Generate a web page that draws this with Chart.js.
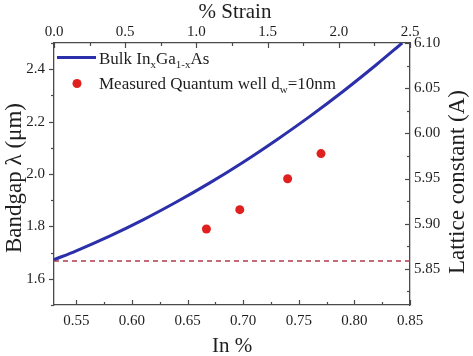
<!DOCTYPE html>
<html>
<head>
<meta charset="utf-8">
<script src="https://cdn.jsdelivr.net/npm/chart.js@4"></script>
<style>
html,body{margin:0;padding:0;background:#fff;}
canvas{display:block;}
</style>
</head>
<body>
<canvas id="c" width="473" height="356"></canvas>
<script>
// ---- data ----
const bulkIn = [0.53, 0.55, 0.58, 0.61, 0.64, 0.67, 0.70, 0.73, 0.76, 0.79, 0.82, 0.843];
const bulkLambda = [1.673, 1.707, 1.763, 1.825, 1.893, 1.966, 2.045, 2.130, 2.220, 2.316, 2.418, 2.500];
const qwIn = [0.667, 0.697, 0.740, 0.770];
const qwLambda = [1.790, 1.864, 1.982, 2.078];
const refIn = [0.53, 0.85];
const refLambda = [1.668, 1.668];
// tick labels
const inTicks = [0.55, 0.60, 0.65, 0.70, 0.75, 0.80, 0.85];
const strainTicks = [0.0, 0.5, 1.0, 1.5, 2.0, 2.5];
const lambdaTicks = [1.6, 1.8, 2.0, 2.2, 2.4];
const latticeTicks = [5.85, 5.90, 5.95, 6.00, 6.05, 6.10];
// legend / titles
const seriesNames = [["Bulk In", ["x"], "Ga", ["1-x"], "As"], ["Measured Quantum well d", ["w"], "=10nm"]];
const titleBottom = "In %";
const titleTop = "% Strain";
const titleLeft = "Bandgap \u03bb (\u03bcm)";
const titleRight = "Lattice constant (A)";

const BLUE = "#2b2faa";
const RED = "#e0201e";
const DASH = "rgb(178,58,78)";
const AX = "#4a4a4a";
const TXT = "#1e1e1e";
const SERIF = "Liberation Serif";

Chart.defaults.font.family = SERIF;

function pts(xs, ys){ return xs.map((x,i)=>({x:x, y:ys[i]})); }

function minorsOf(arr, lo, hi){
  const step = arr[1]-arr[0];
  const out = [];
  for (let k=-1;k<arr.length;k++){
    const v = (k<0? arr[0]-step/2 : arr[k]+step/2);
    if (v >= lo-1e-9 && v <= hi+1e-9) out.push(v);
  }
  return out;
}

const tickPlugin = {
  id:'tickMarks',
  afterDraw(chart){
    const ctx = chart.ctx;
    const s = chart.scales;
    const a = chart.chartArea;
    ctx.save();
    ctx.strokeStyle = AX;
    ctx.lineWidth = 1.2;
    function vt(scale, vals, y0, dir, len){
      vals.forEach(v=>{
        const p = Math.round(scale.getPixelForValue(v))+0.5;
        ctx.beginPath(); ctx.moveTo(p, y0); ctx.lineTo(p, y0+dir*len); ctx.stroke();
      });
    }
    function ht(scale, vals, x0, dir, len){
      vals.forEach(v=>{
        const p = Math.round(scale.getPixelForValue(v))+0.5;
        ctx.beginPath(); ctx.moveTo(x0, p); ctx.lineTo(x0+dir*len, p); ctx.stroke();
      });
    }
    vt(s.x, inTicks, a.bottom, -1, 5);
    vt(s.x, minorsOf(inTicks, s.x.min, s.x.max), a.bottom, -1, 3);
    vt(s.x2, strainTicks, a.top, 1, 5);
    vt(s.x2, minorsOf(strainTicks, s.x2.min, s.x2.max), a.top, 1, 3);
    ht(s.y, lambdaTicks, a.left, -1, 5);
    ht(s.y, minorsOf(lambdaTicks, s.y.min, s.y.max), a.left, -1, 3);
    ht(s.y2, latticeTicks, a.right, -1, 5);
    ht(s.y2, minorsOf(latticeTicks, s.y2.min, s.y2.max), a.right, -1, 3);

    // titles
    ctx.fillStyle = TXT;
    ctx.textBaseline = 'alphabetic';
    ctx.textAlign = 'center';
    ctx.font = "21px '" + SERIF + "'";
    ctx.fillText(titleBottom, (a.left+a.right)/2, 352);
    ctx.fillText(titleTop, (a.left+a.right)/2 + 3, 18);
    ctx.font = "23px '" + SERIF + "'";
    ctx.save(); ctx.translate(21, 178); ctx.rotate(-Math.PI/2); ctx.fillText(titleLeft, 0, 0); ctx.restore();
    ctx.save(); ctx.translate(464, 182); ctx.rotate(-Math.PI/2); ctx.fillText(titleRight, 0, 0); ctx.restore();

    // legend
    function rich(parts, x, y){
      ctx.textAlign = 'left';
      parts.forEach(p=>{
        if (Array.isArray(p)){
          ctx.font = "11px '" + SERIF + "'";
          ctx.fillText(p[0], x, y+4);
          x += ctx.measureText(p[0]).width;
        } else {
          ctx.font = "17px '" + SERIF + "'";
          ctx.fillText(p, x, y);
          x += ctx.measureText(p).width;
        }
      });
    }
    const ds0 = chart.data.datasets[0], ds1 = chart.data.datasets[1];
    ctx.strokeStyle = ds0.borderColor; ctx.lineWidth = 3;
    ctx.beginPath(); ctx.moveTo(57, 57.5); ctx.lineTo(96, 57.5); ctx.stroke();
    rich(seriesNames[0], 99, 63.5);
    ctx.fillStyle = ds1.backgroundColor;
    ctx.beginPath(); ctx.arc(77, 83.5, 4.5, 0, Math.PI*2); ctx.fill();
    ctx.fillStyle = TXT;
    rich(seriesNames[1], 99, 89);
    ctx.restore();
  }
};

function fixedSize(prop, val){ return function(scale){ scale[prop] = val; }; }
function setTicks(arr){ return function(scale){ scale.ticks = arr.map(v=>({value:v})); }; }

function tf(){ return {family: SERIF, size: 15}; }
const commonGrid = {display:false, drawTicks:false, drawOnChartArea:false};
const commonBorder = {display:true, color:AX, width:1.3};

new Chart(document.getElementById('c'), {
  type:'line',
  data:{
    datasets:[
      {label:'Bulk', data:pts(bulkIn, bulkLambda), borderColor:BLUE, backgroundColor:BLUE, borderWidth:3,
       pointRadius:0, cubicInterpolationMode:'monotone', xAxisID:'x', yAxisID:'y', order:1},
      {label:'QW', type:'scatter', data:pts(qwIn, qwLambda), borderColor:RED, backgroundColor:RED,
       pointRadius:4.5, borderWidth:0, showLine:false, xAxisID:'x', yAxisID:'y', order:0},
      {label:'ref', data:pts(refIn, refLambda), borderColor:DASH, borderWidth:1.3, borderDash:[5,4],
       pointRadius:0, xAxisID:'x', yAxisID:'y', order:2}
    ]
  },
  options:{
    responsive:false, animation:false, devicePixelRatio:1,
    layout:{padding:0},
    font:{family:SERIF},
    plugins:{legend:{display:false}, tooltip:{enabled:false}},
    scales:{
      x:{type:'linear', position:'bottom', min:0.53, max:0.85,
         grid:commonGrid, border:commonBorder,
         ticks:{font:tf(), color:TXT, padding:7, autoSkip:false, maxRotation:0, callback:v=>Number(v).toFixed(2)},
         afterBuildTicks:setTicks(inTicks), afterFit:fixedSize('height',51)},
      x2:{type:'linear', position:'top', min:0, max:2.5,
         grid:commonGrid, border:commonBorder,
         ticks:{font:tf(), color:TXT, padding:2, autoSkip:false, maxRotation:0, callback:v=>Number(v).toFixed(1)},
         afterBuildTicks:setTicks(strainTicks), afterFit:fixedSize('height',43)},
      y:{type:'linear', position:'left', min:1.5, max:2.5,
         grid:commonGrid, border:commonBorder,
         ticks:{font:tf(), color:TXT, padding:9, autoSkip:false, callback:v=>Number(v).toFixed(1)},
         afterBuildTicks:setTicks(lambdaTicks), afterFit:fixedSize('width',54)},
      y2:{type:'linear', position:'right', min:5.81, max:6.10,
         grid:commonGrid, border:commonBorder,
         ticks:{font:tf(), color:TXT, padding:4, autoSkip:false, callback:v=>Number(v).toFixed(2)},
         afterBuildTicks:setTicks(latticeTicks), afterFit:fixedSize('width',63)}
    }
  },
  plugins:[tickPlugin]
});
</script>
</body>
</html>
